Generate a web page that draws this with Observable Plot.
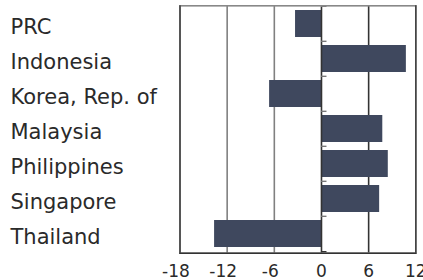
<!DOCTYPE html>
<html>
<head>
<meta charset="utf-8">
<script src="https://cdn.jsdelivr.net/npm/d3@7"></script>
<script src="https://cdn.jsdelivr.net/npm/@observablehq/plot@0.6"></script>
<style>
  html, body { margin: 0; padding: 0; background: #fff; }
  #chart svg { display: block; }
</style>
</head>
<body>
<div id="chart"></div>
<script>
const categories = ["PRC", "Indonesia", "Korea, Rep. of", "Malaysia", "Philippines", "Singapore", "Thailand"];
const values = [-3.3, 10.8, -6.6, 7.8, 8.5, 7.4, -13.6];
const xTicks = [-18, -12, -6, 0, 6, 12];
const negTicks = [-18, -12, -6];
const posTicks = [0, 6, 12];
const lightGrid = [-12, -6];
const darkGrid = [6];

const data = categories.map((c, i) => ({country: c, value: values[i]}));

const W = 423, H = 280;
const mt = 5.3, mb = 27.3, ml = 179.5, mr = 7.7;
const step = (H - mt - mb) / categories.length;

const chart = Plot.plot({
  width: W,
  height: H,
  marginTop: mt,
  marginBottom: mb,
  marginLeft: ml,
  marginRight: mr,
  style: {fontFamily: "'DejaVu Sans', Verdana, sans-serif", color: "#2a2a2a", background: "#fff"},
  x: {domain: [-18, 12], ticks: xTicks},
  y: {domain: categories, paddingInner: 0.224, paddingOuter: 0.112, label: null},
  marks: [
    Plot.ruleX(lightGrid, {stroke: "#808080", strokeWidth: 1.6}),
    Plot.ruleX(darkGrid, {stroke: "#333", strokeWidth: 1.6}),
    Plot.barX(data, {y: "country", x: "value", fill: "#3f485e"}),
    Plot.ruleX([0], {stroke: "#333", strokeWidth: 1.6}),
    Plot.ruleY(categories, {y: d => d, x1: 0, x2: 0.7, dy: -step / 2, stroke: "#777", strokeWidth: 1.4}),
    Plot.ruleY(categories.slice(-1), {y: d => d, x1: 0, x2: 0.7, dy: step / 2, stroke: "#333", strokeWidth: 1.4}),
    Plot.frame({stroke: "#888", strokeWidth: 1.6}),
    Plot.ruleX([-18, 12], {stroke: "#444", strokeWidth: 1.6}),
    Plot.frame({anchor: "bottom", stroke: "#333", strokeWidth: 1.6}),
    Plot.axisY({tickSize: 0, tickPadding: 0, textAnchor: "start", dx: -(ml - 10), dy: 3.5, fontSize: 21, label: null, fill: "#2a2a2a"}),
    Plot.axisX(negTicks, {tickSize: 0, tickPadding: 12, dx: -4, fontSize: 17, label: null, tickFormat: d => String(d), fill: "#2a2a2a"}),
    Plot.axisX(posTicks, {tickSize: 0, tickPadding: 12, fontSize: 17, label: null, tickFormat: d => String(d), fill: "#2a2a2a"})
  ]
});
document.getElementById("chart").appendChild(chart);
</script>
</body>
</html>
